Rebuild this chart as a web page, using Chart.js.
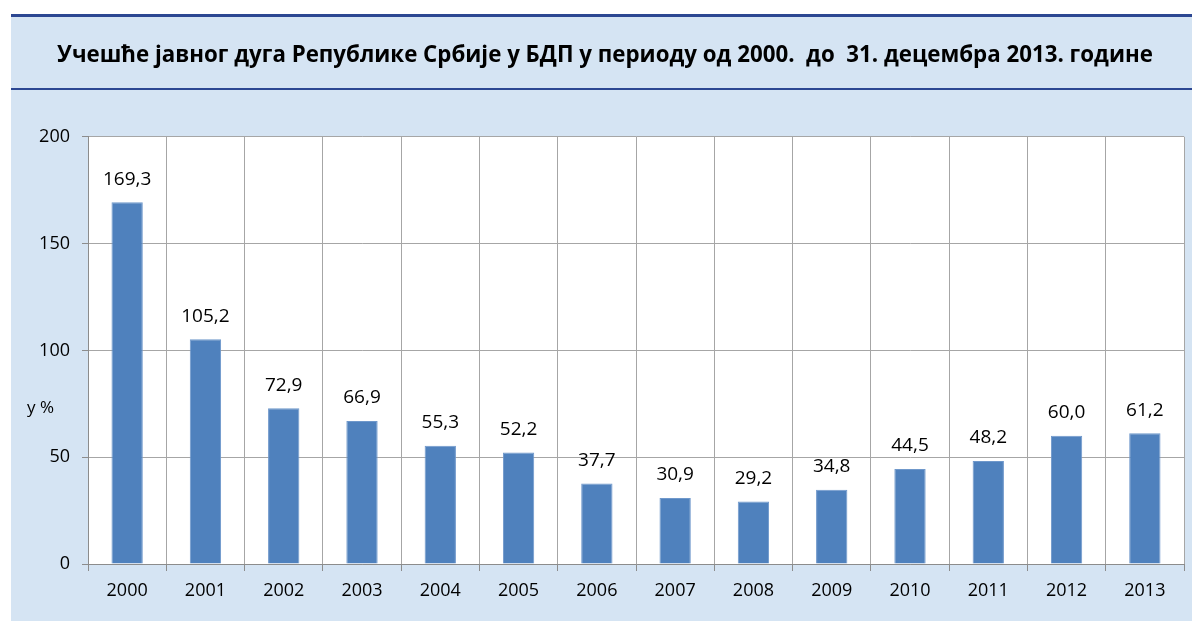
<!DOCTYPE html>
<html>
<head>
<meta charset="utf-8">
<script src="https://cdn.jsdelivr.net/npm/chart.js@4/dist/chart.umd.min.js"></script>
<style>
  html, body { margin: 0; padding: 0; background: #ffffff; }
  #wrap { width: 1192px; height: 621px; position: relative; }
</style>
</head>
<body>
<div id="wrap"><canvas id="chart"></canvas></div>
<script>
const years = ['2000', '2001', '2002', '2003', '2004', '2005', '2006', '2007', '2008', '2009', '2010', '2011', '2012', '2013'];
const debtShare = [169.3, 105.2, 72.9, 66.9, 55.3, 52.2, 37.7, 30.9, 29.2, 34.8, 44.5, 48.2, 60.0, 61.2];
const yTicks = [0, 50, 100, 150, 200];
const titleText = 'Учешће јавног дуга Републике Србије у БДП у периоду од 2000.  до  31. децембра 2013. године';
const yAxisLabel = 'у %';

const FONT = '"Open Sans", "Noto Sans", sans-serif';

// pozadina, linije naslova i belo polje grafikona
const framePlugin = {
    id: 'frame',
    beforeDraw(chart) {
        const ctx = chart.ctx;
        const a = chart.chartArea;
        ctx.save();
        ctx.fillStyle = '#ffffff';
        ctx.fillRect(0, 0, chart.width, chart.height);
        ctx.fillStyle = '#d5e4f3';
        ctx.fillRect(11, 14, chart.width - 11, chart.height - 14);
        ctx.fillStyle = '#2c4792';
        ctx.fillRect(11, 14, chart.width - 11, 3);
        ctx.fillRect(11, 88, chart.width - 11, 2);
        ctx.fillStyle = '#ffffff';
        ctx.fillRect(a.left, a.top, a.right - a.left, a.bottom - a.top);
        ctx.restore();
    },
    afterDraw(chart) {
        const ctx = chart.ctx;
        const y = chart.scales.y;
        ctx.save();
        ctx.fillStyle = '#000000';
        ctx.font = '17px ' + FONT;
        ctx.textAlign = 'left';
        ctx.textBaseline = 'middle';
        ctx.fillText(yAxisLabel, 27, y.getPixelForValue(73));
        ctx.restore();
    }
};

// vrednosti iznad stubova
const valueLabels = {
    id: 'valueLabels',
    afterDatasetsDraw(chart) {
        const ctx = chart.ctx;
        const meta = chart.getDatasetMeta(0);
        ctx.save();
        ctx.fillStyle = '#000000';
        ctx.font = '19px ' + FONT;
        ctx.textAlign = 'center';
        ctx.textBaseline = 'middle';
        meta.data.forEach(function(bar, i) {
            const txt = debtShare[i].toFixed(1).replace('.', ',');
            ctx.fillText(txt, bar.x, bar.y - 23);
        });
        ctx.restore();
    }
};

new Chart(document.getElementById('chart'), {
    type: 'bar',
    data: {
        labels: years,
        datasets: [{
            data: debtShare,
            backgroundColor: '#4f81bd',
            borderColor: '#6f98cb',
            borderWidth: 1,
            barPercentage: 0.8,
            categoryPercentage: 0.5
        }]
    },
    options: {
        responsive: true,
        maintainAspectRatio: false,
        animation: false,
        layout: { padding: { top: 0, right: 8, bottom: 14, left: 26 } },
        plugins: {
            legend: { display: false },
            tooltip: { enabled: false },
            title: {
                display: true,
                text: titleText,
                color: '#000000',
                font: { family: FONT, size: 22.3, weight: 'bold' },
                padding: { top: 42, bottom: 68 }
            }
        },
        scales: {
            x: {
                offset: true,
                grid: { offset: true, color: '#a6a6a6', tickLength: 7, tickColor: '#8c8c8c' },
                border: { color: '#8c8c8c' },
                ticks: { color: '#000000', font: { family: FONT, size: 18 }, padding: 9 },
                afterFit(s) { s.height = 43; }
            },
            y: {
                min: 0,
                max: 200,
                afterBuildTicks(s) { s.ticks = yTicks.map(v => ({ value: v })); },
                grid: { color: '#a6a6a6', tickLength: 6, tickColor: '#8c8c8c' },
                border: { color: '#8c8c8c' },
                ticks: { color: '#000000', font: { family: FONT, size: 18 }, padding: 12 },
                afterFit(s) { s.width = 62; }
            }
        }
    },
    plugins: [framePlugin, valueLabels]
});
</script>
</body>
</html>
